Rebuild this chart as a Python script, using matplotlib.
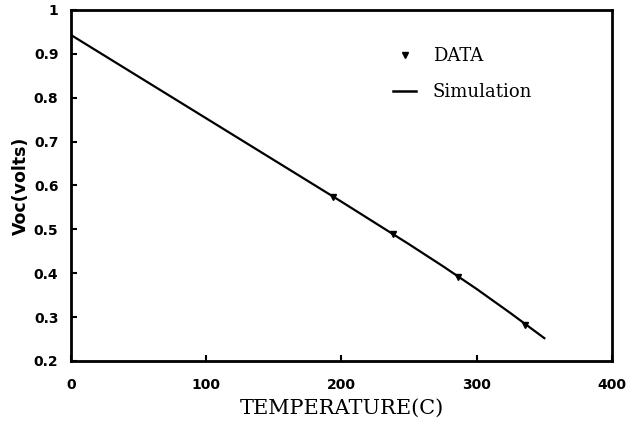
import matplotlib
matplotlib.use("Agg")
import matplotlib.pyplot as plt
from matplotlib.lines import Line2D

# Open-circuit voltage vs temperature
data_temp = [194, 238, 286, 336]
data_voc = [0.573, 0.489, 0.391, 0.282]

sim_temp = [0, 100, 200, 250, 275, 300, 325, 350]
sim_voc = [0.943, 0.753, 0.563, 0.466, 0.416, 0.364, 0.309, 0.252]

x_ticks = [0, 100, 200, 300, 400]
y_ticks = [0.2, 0.3, 0.4, 0.5, 0.6, 0.7, 0.8, 0.9, 1.0]
y_tick_labels = ["0.2", "0.3", "0.4", "0.5", "0.6", "0.7", "0.8", "0.9", "1"]

fig = plt.figure(figsize=(6.26, 4.30), dpi=100)
ax = fig.add_axes([0.1134, 0.1605, 0.8642, 0.8163])

ax.plot(sim_temp, sim_voc, color="black", linewidth=1.6, zorder=3)
ax.plot(data_temp, data_voc, linestyle="none", marker="v", markersize=5,
        color="black", zorder=4)

ax.set_xlim(0, 400)
ax.set_ylim(0.2, 1.0)
ax.set_xticks(x_ticks)
ax.set_yticks(y_ticks)
ax.set_yticklabels(y_tick_labels)

for side in ax.spines.values():
    side.set_linewidth(2)

ax.tick_params(axis="both", direction="in", length=4, width=1.5,
               labelsize=10)
ax.tick_params(axis="x", pad=12)
ax.tick_params(axis="y", pad=9)
for lbl in ax.get_xticklabels() + ax.get_yticklabels():
    lbl.set_fontweight("bold")
    lbl.set_family("DejaVu Sans")

ax.set_xlabel("TEMPERATURE(C)", family="DejaVu Serif", fontsize=15,
              labelpad=5)
ax.set_ylabel("Voc(volts)", family="DejaVu Sans", fontweight="bold",
              fontsize=12.5, labelpad=3)

handles = [
    Line2D([], [], linestyle="none", marker="v", markersize=4, color="black"),
    Line2D([], [], color="black", linewidth=1.8),
]
ax.legend(handles, ["DATA", "Simulation"], loc="upper left",
          bbox_to_anchor=(0.565, 0.94), frameon=False,
          prop={"family": "DejaVu Serif", "size": 13},
          handlelength=1.3, handletextpad=0.9, labelspacing=1.0)

fig.savefig("out.png", dpi=100)
